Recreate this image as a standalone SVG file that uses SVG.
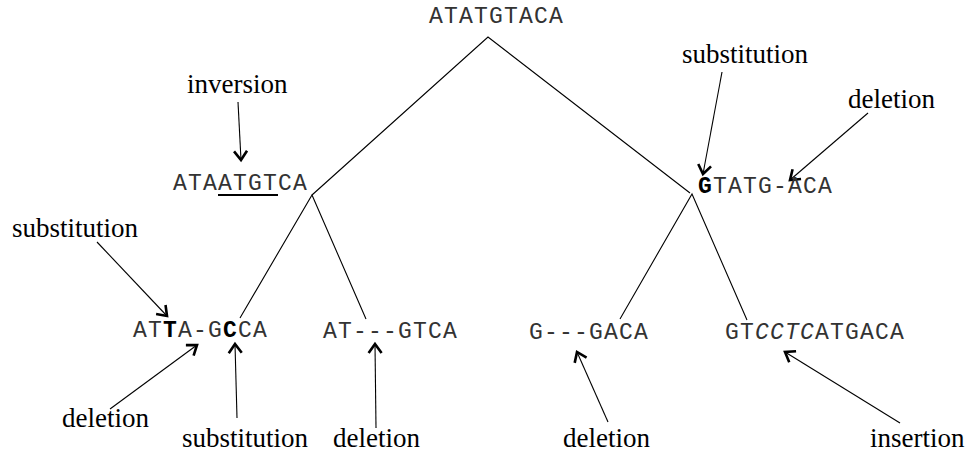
<svg xmlns="http://www.w3.org/2000/svg" width="969" height="453" viewBox="0 0 969 453">
  <style>
    .seq { font-family: "Liberation Mono", "DejaVu Sans Mono", monospace; font-size: 23px; letter-spacing: 1.2px; fill: #333; }
    .seq .b { font-weight: bold; fill: #000; }
    .seq .i { font-style: italic; }
    .lbl { font-family: "Liberation Serif", "Times New Roman", serif; font-size: 27px; fill: #000; }
    .edge { stroke: #000; stroke-width: 1.1; fill: none; }
    .ptr { stroke: #000; stroke-width: 1.1; fill: none; marker-end: url(#head); }
  </style>
  <defs>
    <marker id="head" markerUnits="userSpaceOnUse" markerWidth="16" markerHeight="16" viewBox="0 0 16 16" refX="12" refY="8" orient="auto">
      <path d="M3,1.5 L12,8 L3,14.5" fill="none" stroke="#000" stroke-width="2.6" stroke-linejoin="miter"/>
    </marker>
  </defs>

  <rect width="969" height="453" fill="#fff"/>

  <!-- tree edges -->
  <g id="edges">
    <polyline class="edge" points="312,195 488,37 690,193"/>
    <polyline class="edge" points="240,318 312,195 366,319"/>
    <polyline class="edge" points="620,319 692,194 747,320"/>
  </g>

  <!-- mutation pointers -->
  <g id="pointers">
    <line class="ptr" x1="238" y1="102" x2="241" y2="160"/>
    <line class="ptr" x1="722" y1="72" x2="703" y2="174"/>
    <line class="ptr" x1="868" y1="113" x2="790" y2="180"/>
    <line class="ptr" x1="97" y1="242" x2="167" y2="316"/>
    <line class="ptr" x1="110" y1="409" x2="197" y2="345"/>
    <line class="ptr" x1="237" y1="418" x2="235" y2="344"/>
    <line class="ptr" x1="376" y1="428" x2="375" y2="344"/>
    <line class="ptr" x1="608" y1="422" x2="577" y2="352"/>
    <line class="ptr" x1="900" y1="423" x2="785" y2="352"/>
  </g>

  <!-- sequence nodes -->
  <g id="root">
    <text class="seq" x="429" y="23">ATATGTACA</text>
  </g>
  <g id="left-child">
    <text class="seq" x="173" y="190">ATAATGTCA</text>
    <line x1="218" y1="195" x2="278" y2="195" stroke="#000" stroke-width="2"/>
  </g>
  <g id="right-child">
    <text class="seq" x="698" y="193"><tspan class="b">G</tspan>TATG-ACA</text>
  </g>
  <g id="leaf-1">
    <text class="seq" x="133" y="337">AT<tspan class="b">T</tspan>A-G<tspan class="b">C</tspan>CA</text>
  </g>
  <g id="leaf-2">
    <text class="seq" x="323" y="338">AT---GTCA</text>
  </g>
  <g id="leaf-3">
    <text class="seq" x="529" y="339">G---GACA</text>
  </g>
  <g id="leaf-4">
    <text class="seq" x="725" y="339">GT<tspan class="i">CCTC</tspan>ATGACA</text>
  </g>

  <!-- mutation labels -->
  <g id="labels">
    <text class="lbl" x="187" y="93">inversion</text>
    <text class="lbl" x="682" y="63">substitution</text>
    <text class="lbl" x="848" y="108">deletion</text>
    <text class="lbl" x="12" y="237">substitution</text>
    <text class="lbl" x="62" y="427">deletion</text>
    <text class="lbl" x="182" y="447">substitution</text>
    <text class="lbl" x="333" y="447">deletion</text>
    <text class="lbl" x="563" y="447">deletion</text>
    <text class="lbl" x="870" y="447">insertion</text>
  </g>
</svg>
